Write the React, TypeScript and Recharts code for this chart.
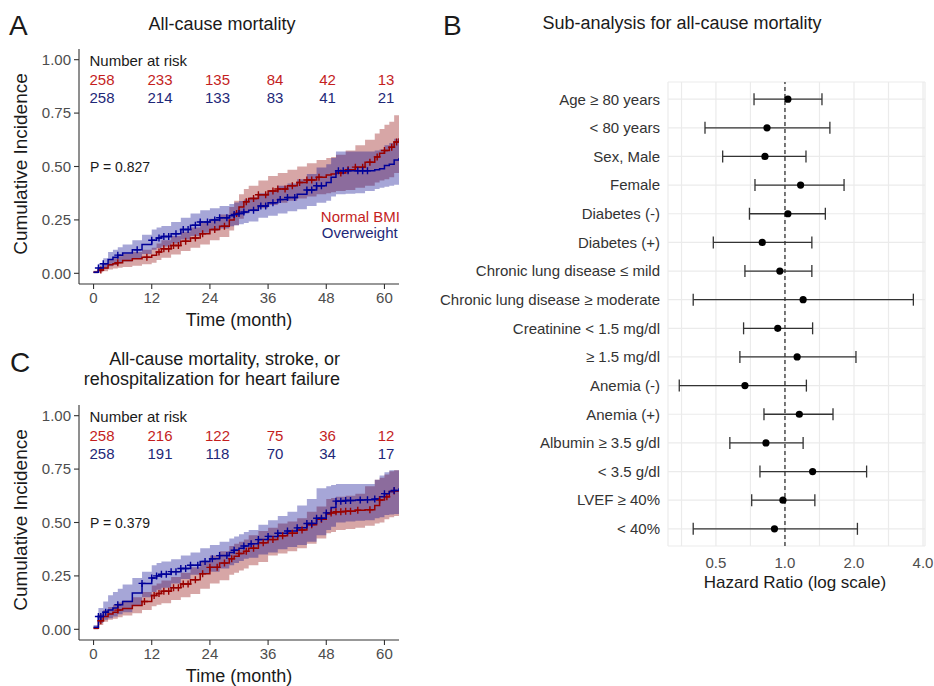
import React from "react";
import {
  Area,
  CartesianGrid,
  ComposedChart,
  ErrorBar,
  Line,
  ReferenceLine,
  Scatter,
  ScatterChart,
  XAxis,
  YAxis,
} from "recharts";

const FONT = '"Liberation Sans", Arial, sans-serif';
const RED_LINE = "#990000";
const BLUE_LINE = "#000099";
const RED_FILL = "#8B0000";
const BLUE_FILL = "#00008B";
const RED_TEXT = "#C41E1E";
const BLUE_TEXT = "#1E2878";

// ---- Kaplan-Meier style panels (A, C) ----
const months = [
  0, 1, 2, 3, 4, 5, 6, 8, 10, 12, 13, 14, 16, 18, 20, 22, 24, 26, 28, 29, 30,
  31, 32, 34, 36, 38, 40, 42, 44, 46, 48, 49, 50, 52, 54, 56, 58, 59, 60, 61,
  62, 63,
];
const timeTicks = [0, 12, 24, 36, 48, 60];
const incTicks = [0, 0.25, 0.5, 0.75, 1];

// A: all-cause mortality
const normalAEst = [0.005,0.015,0.025,0.04,0.045,0.05,0.06,0.068,0.075,0.085,0.1,0.115,0.13,0.15,0.165,0.185,0.205,0.22,0.25,0.28,0.31,0.335,0.35,0.368,0.385,0.395,0.41,0.425,0.437,0.45,0.46,0.465,0.47,0.485,0.497,0.52,0.545,0.562,0.575,0.59,0.615,0.632];
const normalALo = [0,0.005,0.01,0.018,0.022,0.026,0.03,0.036,0.042,0.05,0.062,0.073,0.088,0.105,0.12,0.135,0.155,0.17,0.2,0.225,0.255,0.28,0.29,0.305,0.32,0.33,0.34,0.35,0.36,0.37,0.375,0.38,0.385,0.39,0.4,0.41,0.425,0.435,0.44,0.45,0.47,0.48];
const normalAHi = [0.012,0.03,0.045,0.065,0.072,0.08,0.09,0.1,0.11,0.12,0.14,0.155,0.175,0.195,0.215,0.235,0.255,0.275,0.31,0.34,0.37,0.395,0.41,0.435,0.455,0.47,0.485,0.5,0.515,0.53,0.54,0.545,0.555,0.575,0.6,0.625,0.655,0.675,0.695,0.71,0.74,0.75];
const overAEst = [0.005,0.025,0.045,0.065,0.075,0.085,0.095,0.11,0.135,0.155,0.165,0.172,0.185,0.205,0.225,0.24,0.25,0.26,0.27,0.275,0.28,0.287,0.295,0.315,0.33,0.345,0.355,0.37,0.39,0.41,0.425,0.45,0.48,0.48,0.48,0.48,0.485,0.49,0.505,0.51,0.53,0.54];
const overALo = [0,0.01,0.02,0.033,0.04,0.047,0.055,0.068,0.09,0.11,0.118,0.125,0.14,0.158,0.175,0.19,0.2,0.21,0.22,0.225,0.23,0.235,0.243,0.26,0.27,0.28,0.29,0.3,0.315,0.33,0.34,0.36,0.37,0.372,0.375,0.385,0.395,0.4,0.405,0.41,0.415,0.42];
const overAHi = [0.01,0.045,0.07,0.1,0.11,0.122,0.135,0.155,0.18,0.205,0.215,0.222,0.24,0.26,0.28,0.295,0.305,0.315,0.325,0.332,0.338,0.345,0.355,0.375,0.39,0.41,0.42,0.44,0.465,0.495,0.51,0.54,0.57,0.57,0.57,0.57,0.575,0.58,0.6,0.61,0.63,0.65];
const censorANormal = [1.5,5,11,13.5,14.5,15.5,16.5,17.5,19,21,22.5,25,27,29.5,31.5,33,34,35.5,37,38,39.5,41,42.5,44,45,46.5,51,52.5,54,55.5,57,58.5,60,61.5,62.5];
const censorAOver = [1,2,5,9,12,13.5,14.5,15.5,17,18.5,19.5,21,22,23.5,25,26,27.5,29,30,31,33,34.5,35.5,37,38.5,40,41.5,44,45,46,47,50.5,51.5,52.5,54.5,55.5,56.5];
const riskANormal = [258, 233, 135, 84, 42, 13];
const riskAOver = [258, 214, 133, 83, 41, 21];

// C: all-cause mortality, stroke, or rehospitalization for HF
const normalCEst = [0.005,0.04,0.06,0.072,0.08,0.09,0.098,0.112,0.13,0.158,0.168,0.178,0.195,0.212,0.232,0.26,0.29,0.31,0.33,0.342,0.355,0.365,0.38,0.405,0.42,0.438,0.45,0.465,0.49,0.515,0.54,0.545,0.55,0.553,0.557,0.56,0.58,0.605,0.62,0.645,0.648,0.65];
const normalCLo = [0,0.02,0.035,0.045,0.05,0.057,0.065,0.075,0.09,0.108,0.115,0.122,0.137,0.15,0.165,0.19,0.215,0.23,0.255,0.265,0.275,0.285,0.3,0.315,0.345,0.355,0.365,0.38,0.4,0.425,0.45,0.455,0.465,0.47,0.475,0.485,0.495,0.5,0.515,0.525,0.53,0.535];
const normalCHi = [0.012,0.07,0.09,0.105,0.115,0.125,0.135,0.15,0.175,0.205,0.215,0.228,0.245,0.265,0.29,0.315,0.345,0.365,0.39,0.4,0.41,0.42,0.44,0.46,0.475,0.495,0.505,0.52,0.55,0.575,0.61,0.615,0.62,0.625,0.635,0.67,0.7,0.71,0.725,0.74,0.745,0.745];
const overCEst = [0.01,0.06,0.08,0.09,0.1,0.115,0.13,0.17,0.215,0.24,0.25,0.258,0.27,0.285,0.3,0.318,0.33,0.345,0.36,0.37,0.38,0.39,0.4,0.42,0.435,0.45,0.46,0.475,0.495,0.52,0.545,0.57,0.6,0.603,0.605,0.607,0.61,0.62,0.635,0.645,0.65,0.66];
const overCLo = [0,0.03,0.045,0.052,0.06,0.07,0.08,0.11,0.15,0.175,0.185,0.195,0.215,0.235,0.255,0.262,0.27,0.285,0.3,0.31,0.32,0.33,0.335,0.35,0.36,0.375,0.385,0.395,0.41,0.44,0.465,0.48,0.5,0.505,0.508,0.51,0.52,0.525,0.535,0.537,0.54,0.54];
const overCHi = [0.02,0.1,0.13,0.16,0.175,0.19,0.21,0.24,0.27,0.3,0.31,0.318,0.328,0.345,0.36,0.38,0.395,0.41,0.425,0.435,0.445,0.455,0.465,0.49,0.51,0.53,0.55,0.58,0.61,0.66,0.67,0.675,0.68,0.68,0.68,0.68,0.7,0.72,0.735,0.745,0.745,0.745];
const censorCNormal = [1.5,5,10.5,12.5,13.5,14.5,15.5,16.5,17.5,18.5,19.5,21,22.5,24,25.5,27,28.5,30,31.5,33,35,37,39,41,43,45,47,49,50,51,52,53,54.5,57,59,60.5,62];
const censorCOver = [1,1.5,2.5,5,10,12,13,14,15,16,17,18,19,20,21.5,23,24.5,26,27.5,29,31,32.5,34,36,38,40,42,44,45,46,47,48,50,51,52,53,55,56.5,58,60,62];
const riskCNormal = [258, 216, 122, 75, 36, 12];
const riskCOver = [258, 191, 118, 70, 34, 17];

// ---- Forest plot (B) ----
const subgroups = [
  "Age \u2265 80 years",
  "< 80 years",
  "Sex, Male",
  "Female",
  "Diabetes (-)",
  "Diabetes (+)",
  "Chronic lung disease \u2264 mild",
  "Chronic lung disease \u2265 moderate",
  "Creatinine < 1.5 mg/dl",
  "\u2265 1.5 mg/dl",
  "Anemia (-)",
  "Anemia (+)",
  "Albumin \u2265 3.5 g/dl",
  "< 3.5 g/dl",
  "LVEF \u2265 40%",
  "< 40%",
];
const hazardRatio = [1.03, 0.835, 0.818, 1.17, 1.03, 0.796, 0.95, 1.2, 0.93, 1.13, 0.669, 1.155, 0.826, 1.32, 0.98, 0.9];
const ciLower = [0.733, 0.448, 0.535, 0.74, 0.7, 0.487, 0.669, 0.398, 0.66, 0.636, 0.346, 0.81, 0.575, 0.778, 0.716, 0.398];
const ciUpper = [1.45, 1.57, 1.235, 1.81, 1.5, 1.31, 1.31, 3.63, 1.32, 2.04, 1.24, 1.62, 1.2, 2.27, 1.35, 2.07];
const hrMajorTicks = [0.5, 1, 2, 4];
const hrGridTicks = [0.354, 0.5, 0.707, 1, 1.414, 2, 2.828, 4];

const forestRows = subgroups.map((label, i) => ({
  row: i,
  label,
  hr: hazardRatio[i],
  err: [hazardRatio[i] - ciLower[i], ciUpper[i] - hazardRatio[i]],
}));

function stepValue(est: number[], t: number) {
  let v = est[0];
  for (let i = 0; i < months.length; i++) if (months[i] <= t) v = est[i];
  return v;
}

function kmRows(rEst: number[], rLo: number[], rHi: number[], bEst: number[], bLo: number[], bHi: number[]) {
  return months.map((t, i) => ({
    t,
    red: rEst[i],
    redBand: [rLo[i], rHi[i]],
    blue: bEst[i],
    blueBand: [bLo[i], bHi[i]],
  }));
}

function censorPoints(times: number[], est: number[]) {
  return times.map((t) => ({ t, v: stepValue(est, t) }));
}

const plusShape = (color: string) => (props: any) => {
  const { cx, cy } = props;
  if (cx == null || cy == null) return <g />;
  return (
    <path
      d={`M${cx - 3.5},${cy}H${cx + 3.5}M${cx},${cy - 3.5}V${cy + 3.5}`}
      stroke={color}
      strokeWidth={1.4}
      fill="none"
    />
  );
};

const axisTick = { fill: "#4D4D4D", fontSize: 15, fontFamily: FONT };
const riskX = [102, 160, 217.5, 275, 327.5, 386];

interface KMProps {
  top: number;
  rows: any[];
  censorRed: { t: number; v: number }[];
  censorBlue: { t: number; v: number }[];
  riskRed: number[];
  riskBlue: number[];
  pText: string;
  legend?: boolean;
}

function KMPanel({ top, rows, censorRed, censorBlue, riskRed, riskBlue, pText, legend }: KMProps) {
  return (
    <div style={{ position: "absolute", left: 0, top, width: 410, height: 340 }}>
      <ComposedChart
        width={410}
        height={340}
        data={rows}
        margin={{ top: 49, right: 11, bottom: 26, left: 34 }}
      >
        <XAxis
          type="number"
          dataKey="t"
          domain={[-3, 63]}
          ticks={timeTicks}
          allowDataOverflow
          height={30}
          tickSize={5}
          tickMargin={3}
          axisLine={{ stroke: "#333", strokeWidth: 1.1 }}
          tickLine={{ stroke: "#333", strokeWidth: 1.1 }}
          tick={axisTick}
        />
        <YAxis
          type="number"
          domain={[-0.05, 1.05]}
          ticks={incTicks}
          allowDataOverflow
          width={45}
          tickSize={5}
          tickMargin={3}
          tickFormatter={(v: number) => v.toFixed(2)}
          axisLine={{ stroke: "#333", strokeWidth: 1.1 }}
          tickLine={{ stroke: "#333", strokeWidth: 1.1 }}
          tick={axisTick}
        />
        <Area
          dataKey="redBand"
          type="stepAfter"
          fill={RED_FILL}
          fillOpacity={0.35}
          stroke="none"
          isAnimationActive={false}
        />
        <Area
          dataKey="blueBand"
          type="stepAfter"
          fill={BLUE_FILL}
          fillOpacity={0.35}
          stroke="none"
          isAnimationActive={false}
        />
        <Line
          dataKey="red"
          type="stepAfter"
          stroke={RED_LINE}
          strokeWidth={1.5}
          dot={false}
          isAnimationActive={false}
        />
        <Line
          dataKey="blue"
          type="stepAfter"
          stroke={BLUE_LINE}
          strokeWidth={1.5}
          dot={false}
          isAnimationActive={false}
        />
        <Scatter
          data={censorRed}
          dataKey="v"
          shape={plusShape(RED_LINE)}
          isAnimationActive={false}
        />
        <Scatter
          data={censorBlue}
          dataKey="v"
          shape={plusShape(BLUE_LINE)}
          isAnimationActive={false}
        />
      </ComposedChart>
      <svg
        width={410}
        height={340}
        style={{ position: "absolute", left: 0, top: 0, pointerEvents: "none" }}
        fontFamily={FONT}
      >
        <text x={89.5} y={66} fontSize={15} fill="#1a1a1a">
          Number at risk
        </text>
        {riskRed.map((n, i) => (
          <text key={`r${i}`} x={riskX[i]} y={85} fontSize={15} fill={RED_TEXT} textAnchor="middle">
            {n}
          </text>
        ))}
        {riskBlue.map((n, i) => (
          <text key={`b${i}`} x={riskX[i]} y={102.7} fontSize={15} fill={BLUE_TEXT} textAnchor="middle">
            {n}
          </text>
        ))}
        <text x={90} y={172} fontSize={14} fill="#1a1a1a">
          {pText}
        </text>
        {legend && (
          <>
            <text x={400} y={221.7} fontSize={15} fill={RED_TEXT} textAnchor="end">
              Normal BMI
            </text>
            <text x={397.7} y={238.3} fontSize={15} fill={BLUE_TEXT} textAnchor="end">
              Overweight
            </text>
          </>
        )}
        <text x={239} y={326} fontSize={18} fill="#1a1a1a" textAnchor="middle">
          Time (month)
        </text>
        <text
          transform="translate(26.5,164) rotate(-90)"
          fontSize={19}
          fill="#1a1a1a"
          textAnchor="middle"
        >
          Cumulative Incidence
        </text>
      </svg>
    </div>
  );
}

const dotShape = (props: any) => {
  const { cx, cy } = props;
  if (cx == null || cy == null) return <g />;
  return <circle cx={cx} cy={cy} r={3.6} fill="#000" />;
};

function ForestPanel() {
  return (
    <div style={{ position: "absolute", left: 420, top: 0, width: 514, height: 600 }}>
      <ScatterChart
        width={514}
        height={600}
        margin={{ top: 82, right: 9, bottom: 14, left: 0 }}
      >
        <CartesianGrid stroke="#EBEBEB" strokeWidth={1.2} />
        <XAxis
          type="number"
          dataKey="hr"
          scale="log"
          domain={[0.309, 4.08]}
          allowDataOverflow
          ticks={hrGridTicks}
          interval={0}
          tickFormatter={(v: number) => (hrMajorTicks.includes(v) ? v.toFixed(1) : "")}
          height={40}
          axisLine={false}
          tickLine={false}
          tickSize={6}
          tickMargin={5}
          tick={{ fill: "#4D4D4D", fontSize: 15, fontFamily: FONT }}
        />
        <YAxis
          type="number"
          dataKey="row"
          domain={[-0.6, 15.6]}
          reversed
          ticks={forestRows.map((r) => r.row)}
          interval={0}
          tickFormatter={(i: number) => subgroups[i] ?? ""}
          width={248}
          axisLine={false}
          tickLine={false}
          tick={{ fill: "#333", fontSize: 15, fontFamily: FONT }}
        />
        <ReferenceLine x={1} stroke="#333" strokeDasharray="4 3" strokeWidth={1.3} />
        <Scatter data={forestRows} shape={dotShape} isAnimationActive={false}>
          <ErrorBar
            dataKey="err"
            direction="x"
            width={6}
            stroke="#333"
            strokeWidth={1.3}
            isAnimationActive={false}
          />
        </Scatter>
      </ScatterChart>
    </div>
  );
}

export default function App() {
  const rowsA = kmRows(normalAEst, normalALo, normalAHi, overAEst, overALo, overAHi);
  const rowsC = kmRows(normalCEst, normalCLo, normalCHi, overCEst, overCLo, overCHi);
  return (
    <div
      style={{
        position: "absolute",
        left: 0,
        top: 0,
        width: 934,
        height: 686,
        background: "#fff",
        fontFamily: FONT,
        overflow: "hidden",
      }}
    >
      <KMPanel
        top={0}
        rows={rowsA}
        censorRed={censorPoints(censorANormal, normalAEst)}
        censorBlue={censorPoints(censorAOver, overAEst)}
        riskRed={riskANormal}
        riskBlue={riskAOver}
        pText="P = 0.827"
        legend
      />
      <KMPanel
        top={356}
        rows={rowsC}
        censorRed={censorPoints(censorCNormal, normalCEst)}
        censorBlue={censorPoints(censorCOver, overCEst)}
        riskRed={riskCNormal}
        riskBlue={riskCOver}
        pText="P = 0.379"
      />
      <ForestPanel />
      <svg
        width={934}
        height={686}
        style={{ position: "absolute", left: 0, top: 0, pointerEvents: "none" }}
        fontFamily={FONT}
        fill="#1a1a1a"
      >
        <text x={9} y={35} fontSize={28}>A</text>
        <text x={222} y={29.5} fontSize={18} textAnchor="middle">
          All-cause mortality
        </text>
        <text x={10} y={371.7} fontSize={28}>C</text>
        <text x={340} y={365} fontSize={18} textAnchor="end">
          All-cause mortality, stroke, or
        </text>
        <text x={340} y={385} fontSize={18} textAnchor="end">
          rehospitalization for heart failure
        </text>
        <text x={443} y={35} fontSize={28}>B</text>
        <text x={682} y={29} fontSize={18} textAnchor="middle">
          Sub-analysis for all-cause mortality
        </text>
        <text x={795} y={588} fontSize={17} textAnchor="middle">
          Hazard Ratio (log scale)
        </text>
      </svg>
    </div>
  );
}
